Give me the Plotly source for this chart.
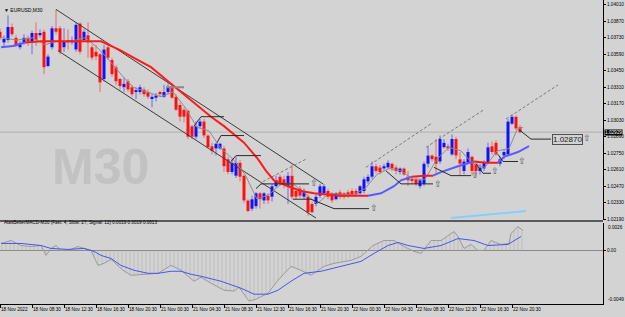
import plotly.graph_objects as go

# ---------------- data (EURUSD M30) ----------------
bars = list(range(131))
open_ = [1.0378,1.0369,1.0371,1.0382,1.0373,1.0365,1.0369,1.0373,1.0369,1.0377,
         1.0375,1.0378,1.0349,1.0365,1.0381,1.0381,1.0365,1.0371,1.0369,1.0363,
         1.0385,1.0371,1.0375,1.0365,1.0361,1.0359,1.0338,1.0365,1.0354,1.0348,
         1.0338,1.0331,1.0336,1.0331,1.0327,1.0327,1.0329,1.0327,1.0321,1.0322,
         1.0327,1.0323,1.0327,1.0331,1.0323,1.0316,1.0312,1.0311,1.0298,1.0289,
         1.0298,1.0302,1.0290,1.0281,1.0279,1.0279,1.0279,1.0270,1.0259,1.0256,
         1.0267,1.0256,1.0235,1.0228,1.0230,1.0241,1.0235,1.0239,1.0238,1.0247,
         1.0255,1.0253,1.0247,1.0256,1.0243,1.0245,1.0238,1.0238,1.0232,1.0232,
         1.0239,1.0241,1.0243,1.0241,1.0236,1.0242,1.0241,1.0242,1.0243,1.0243,
         1.0241,1.0243,1.0251,1.0255,1.0264,1.0263,1.0262,1.0263,1.0266,1.0263,
         1.0259,1.0262,1.0255,1.0253,1.0253,1.0247,1.0249,1.0266,1.0273,1.0272,
         1.0268,1.0280,1.0281,1.0274,1.0287,1.0270,1.0260,1.0267,1.0272,1.0266,
         1.0260,1.0262,1.0267,1.0281,1.0284,1.0266,1.0273,1.0274,1.0300,1.0306,
         1.0297]
close_ = [1.0373,1.0372,1.0382,1.0376,1.0366,1.0368,1.0373,1.0370,1.0377,1.0371,
          1.0377,1.0348,1.0357,1.0381,1.0378,1.0361,1.0370,1.0369,1.0371,1.0384,
          1.0361,1.0378,1.0369,1.0356,1.0357,1.0335,1.0363,1.0356,1.0342,1.0336,
          1.0332,1.0334,1.0329,1.0325,1.0328,1.0331,1.0325,1.0323,1.0323,1.0324,
          1.0325,1.0327,1.0331,1.0322,1.0312,1.0306,1.0306,1.0289,1.0289,1.0298,
          1.0302,1.0290,1.0280,1.0277,1.0283,1.0283,1.0264,1.0259,1.0267,1.0267,
          1.0255,1.0235,1.0226,1.0236,1.0241,1.0236,1.0241,1.0235,1.0247,1.0252,
          1.0249,1.0248,1.0256,1.0238,1.0238,1.0239,1.0243,1.0225,1.0225,1.0238,
          1.0247,1.0247,1.0238,1.0235,1.0241,1.0238,1.0238,1.0239,1.0240,1.0240,
          1.0247,1.0253,1.0255,1.0264,1.0260,1.0259,1.0264,1.0267,1.0262,1.0260,
          1.0262,1.0257,1.0252,1.0252,1.0249,1.0252,1.0266,1.0273,1.0270,1.0266,
          1.0287,1.0284,1.0279,1.0287,1.0273,1.0266,1.0268,1.0276,1.0260,1.0260,
          1.0263,1.0267,1.0280,1.0276,1.0274,1.0270,1.0276,1.0302,1.0306,1.0296,
          1.02929]
high_ = [1.0381,1.0375,1.0392,1.0385,1.0375,1.0370,1.0376,1.0375,1.0379,1.0386,
         1.0380,1.0380,1.0359,1.0383,1.0397,1.0383,1.0381,1.0380,1.0374,1.0386,
         1.0386,1.0380,1.0386,1.0367,1.0367,1.0360,1.0367,1.0368,1.0356,1.0350,
         1.0339,1.0339,1.0338,1.0333,1.0331,1.0333,1.0331,1.0329,1.0325,1.0326,
         1.0328,1.0333,1.0334,1.0334,1.0325,1.0318,1.0314,1.0312,1.0299,1.0302,
         1.0304,1.0304,1.0291,1.0284,1.0284,1.0284,1.0281,1.0272,1.0270,1.0272,
         1.0269,1.0257,1.0236,1.0239,1.0242,1.0242,1.0242,1.0241,1.0249,1.0256,
         1.0257,1.0256,1.0259,1.0265,1.0245,1.0247,1.0245,1.0240,1.0234,1.0241,
         1.0249,1.0249,1.0245,1.0242,1.0242,1.0244,1.0242,1.0244,1.0245,1.0245,
         1.0248,1.0255,1.0257,1.0268,1.0266,1.0265,1.0266,1.0269,1.0267,1.0265,
         1.0263,1.0263,1.0260,1.0255,1.0255,1.0253,1.0268,1.0281,1.0274,1.0287,
         1.0290,1.0287,1.0283,1.0291,1.0289,1.0276,1.0270,1.0279,1.0273,1.0267,
         1.0266,1.0269,1.0284,1.0285,1.0286,1.0272,1.0278,1.0304,1.0308,1.0307,
         1.0299]
low_ = [1.0371,1.0366,1.0369,1.0374,1.0365,1.0363,1.0367,1.0366,1.0359,1.0366,
        1.0373,1.0342,1.0348,1.0363,1.0376,1.0359,1.0361,1.0363,1.0367,1.0361,
        1.0359,1.0370,1.0356,1.0354,1.0354,1.0327,1.0336,1.0354,1.0340,1.0333,
        1.0329,1.0327,1.0327,1.0323,1.0321,1.0325,1.0323,1.0321,1.0314,1.0319,
        1.0323,1.0322,1.0325,1.0321,1.0311,1.0302,1.0301,1.0287,1.0287,1.0287,
        1.0296,1.0288,1.0279,1.0274,1.0273,1.0278,1.0259,1.0257,1.0257,1.0254,
        1.0251,1.0233,1.0225,1.0226,1.0228,1.0228,1.0232,1.0232,1.0234,1.0246,
        1.0247,1.0245,1.0232,1.0236,1.0236,1.0237,1.0236,1.0222,1.0224,1.0230,
        1.0237,1.0239,1.0236,1.0233,1.0235,1.0236,1.0236,1.0237,1.0238,1.0238,
        1.0239,1.0241,1.0249,1.0253,1.0258,1.0257,1.0260,1.0262,1.0260,1.0257,
        1.0257,1.0256,1.0247,1.0249,1.0247,1.0245,1.0247,1.0263,1.0268,1.0257,
        1.0266,1.0279,1.0277,1.0273,1.0270,1.0256,1.0257,1.0266,1.0256,1.0255,
        1.0257,1.0260,1.0266,1.0274,1.0273,1.0264,1.0270,1.0273,1.0299,1.0295,
        1.0292]

time_tick_bars = [0, 8, 16, 24, 32, 40, 48, 56, 64, 72, 80, 88, 96, 104, 112, 120, 128]
time_tick_labels = ["18 Nov 2022", "18 Nov 08:30", "18 Nov 12:30", "18 Nov 16:30",
                    "18 Nov 20:30", "21 Nov 00:30", "21 Nov 04:30", "21 Nov 08:30",
                    "21 Nov 12:30", "21 Nov 16:30", "21 Nov 20:30", "22 Nov 00:30",
                    "22 Nov 04:30", "22 Nov 08:30", "22 Nov 12:30", "22 Nov 16:30",
                    "22 Nov 20:30"]
price_ticks = [1.0401, 1.0387, 1.0373, 1.0359, 1.0345, 1.0331, 1.0317,
               1.0303, 1.0289, 1.0275, 1.0261, 1.0247, 1.0233, 1.0219]
price_tick_labels = ["1.04010", "1.03870", "1.03730", "1.03590", "1.03450", "1.03310", "1.03170",
                     "1.03030", "1.02890", "1.02750", "1.02610", "1.02470", "1.02330", "1.02190"]

# trend MA (colored by direction: 1 = rising/blue, 0 = falling/red, per segment)
ma_bars = [0.25, 3.25, 6.25, 10.25, 15.25, 20.25, 25.25, 27.75, 30.25, 33.5, 37.75, 42, 45.25,
           49.5, 52.75, 56, 59, 61, 62.75, 64.5, 66.5, 68.5, 72, 75.25, 78.5, 82, 85.25, 92,
           95.25, 98.5, 100.25, 103, 106, 108.25, 110.25, 114.5, 118.5, 121.5, 124.5, 126,
           129.5, 132.25]
ma_vals = [1.0365, 1.0366, 1.0369, 1.0370, 1.0370, 1.0370, 1.0370, 1.0366, 1.0362, 1.0356,
           1.0348, 1.0336, 1.0327, 1.0315, 1.0306, 1.0298, 1.0290, 1.0284, 1.0277, 1.0270,
           1.0260, 1.0252, 1.0247, 1.0243, 1.0241, 1.0240, 1.0239, 1.0239, 1.0241, 1.0247,
           1.0252, 1.0255, 1.0256, 1.0256, 1.0259, 1.0264, 1.0268, 1.0267, 1.0267, 1.0272,
           1.0276, 1.0281]
ma_up = [1, 1, 0, 0, 0, 0, 0, 0, 0, 0, 0, 0, 0, 0, 0, 0, 0, 0, 0, 0, 0, 0, 0, 0, 0, 0, 0,
         1, 1, 1, 1, 0, 0, 1, 1, 1, 0, 0, 1, 1, 1, 1]

# fast grey MA
fast_bars = [0.25, 4.25, 8.25, 11.25, 14.25, 17.75, 21.25, 24.25, 27.25, 30.25, 33.25, 36.5,
             40.25, 43.25, 46.25, 49.25, 52.25, 55.25, 58.25, 61.25, 64.25, 67.25, 70.25, 73.25,
             76.25, 79.25, 82.25, 85.25, 88.25, 91.25, 94.25, 97.25, 100.25, 103.25, 106.25,
             109.25, 112.25, 115.25, 118.25, 121.25, 124.25, 127.25, 129.25, 130.75]
fast_vals = [1.0373, 1.0371, 1.0373, 1.0367, 1.0370, 1.0370, 1.0373, 1.0365, 1.0354, 1.0342,
             1.0331, 1.0327, 1.0323, 1.0327, 1.0314, 1.0297, 1.0294, 1.0279, 1.0270, 1.0257,
             1.0236, 1.0240, 1.0249, 1.0249, 1.0241, 1.0232, 1.0241, 1.0240, 1.0240, 1.0245,
             1.0257, 1.0262, 1.0260, 1.0253, 1.0253, 1.0270, 1.0280, 1.0277, 1.0266, 1.0263,
             1.0277, 1.0279, 1.0295, 1.0297]

# trailing-stop step lines
step_bars = [[48.5, 50.25, 56], [54.25, 55.25, 61], [57.75, 59, 65.25], [64, 65.25, 77.25],
             [73.25, 77.75, 83.5, 92.25], [96.5, 100.25, 108.25], [108.5, 112.75, 117.75],
             [119, 120.75, 122.75], [124.5, 125.75, 129.5], [129.75, 132.75, 137.75]]
step_prices = [[1.0298, 1.0306, 1.0306], [1.0284, 1.0290, 1.0290], [1.0268, 1.0273, 1.0273],
               [1.0245, 1.0249, 1.0249], [1.0236, 1.0236, 1.0228, 1.0228],
               [1.0260, 1.0249, 1.0249], [1.0263, 1.0256, 1.0256], [1.0266, 1.0258, 1.0258],
               [1.0274, 1.0268, 1.0268], [1.0295, 1.0287, 1.0287]]
arrow_bars = [78.5, 93.5, 109.5, 118.75, 123.75, 130.5, 146.75]
arrow_prices = [1.0249, 1.0228, 1.0248, 1.0256, 1.0259, 1.0268, 1.0287]
grey_level_bars = [41.5, 46]
grey_level_prices = [1.0331, 1.0331]
stop_label_bar = 141.75
stop_label_price = 1.02870

# channel drawings
down_channel_bars = [[14, 80.75], [14.5, 79]]
down_channel_prices = [[1.0397, 1.0249], [1.0362, 1.0220]]
dash_bars = [[65.75, 76.5], [91.5, 107.75], [106.5, 121], [126.5, 139.5]]
dash_prices = [[1.0251, 1.0270], [1.0263, 1.0300], [1.0280, 1.0312], [1.0304, 1.0333]]
lightblue_bars = [112.75, 131.5]
lightblue_prices = [1.0220, 1.0226]

# MACD (Fast 4, Slow 27, Signal 12)
macd_bars = [0.25, 2.75, 5.25, 7.75, 10.25, 11.5, 12.75, 14, 15.25, 17.75, 19.5, 21, 22.75,
             24.5, 26, 27.75, 29.5, 30.75, 32.75, 36, 39.5, 42.75, 45.25, 48.5, 50.25, 52.75,
             56, 58.5, 59.75, 62.25, 64, 67, 69.5, 72.75, 75.25, 77.75, 81, 83.5, 87.75, 90.25,
             93.25, 96, 98.5, 101, 103.5, 105.25, 107.75, 110.25, 112, 113.5, 114.5, 116,
             117.75, 119.5, 121, 122.75, 125.25, 127.25, 127.75, 129.5, 130.75]
macd_vals = [0.00068, 0.00095, 0.00049, 0.00040, 0.00049, -0.00042, 0.00022, 0.00049, 0.00004,
             0.00013, 0.00040, 0.00022, 0.00004, -0.00134, -0.00115, -0.00079, -0.00134,
             -0.00179, -0.00225, -0.00216, -0.00207, -0.00134, -0.00179, -0.00280, -0.00243,
             -0.00298, -0.00362, -0.00371, -0.00335, -0.00463, -0.00445, -0.00390, -0.00271,
             -0.00143, -0.00179, -0.00225, -0.00143, -0.00115, -0.00088, -0.00051, 0.00049,
             0.00095, 0.00095, 0.00040, -0.00005, -0.00024, 0.00095, 0.00095, 0.00141, 0.00178,
             0.00132, 0.00022, 0.00059, 0.00004, 0.00004, 0.00095, 0.00059, 0.00068, 0.00159,
             0.00223, 0.00187]
signal_bars = [0.25, 5.25, 10.25, 12.75, 17, 21, 23.5, 25.25, 27.75, 30.25, 33.5, 37, 39.5,
               42.75, 45.25, 47.75, 50.25, 55.25, 60.25, 63.5, 67, 69.5, 72.75, 76, 80.25,
               85.25, 90.25, 93.5, 97, 99.5, 102, 106, 110.25, 114.5, 118.5, 122, 127, 130.25]
signal_vals = [0.00068, 0.00068, 0.00049, 0.00022, 0.00013, 0.00022, -0.00005, -0.00042,
               -0.00070, -0.00134, -0.00179, -0.00207, -0.00207, -0.00188, -0.00188, -0.00216,
               -0.00234, -0.00280, -0.00344, -0.00399, -0.00399, -0.00362, -0.00280, -0.00207,
               -0.00188, -0.00143, -0.00097, -0.00024, 0.00049, 0.00077, 0.00049, 0.00022,
               0.00049, 0.00113, 0.00095, 0.00049, 0.00059, 0.00132]
macd_max, macd_min = 0.0026, -0.0049

# ---------------- styling ----------------
BG = "#d3d3d3"
FONT = "Liberation Sans"
W, H = 625, 317
X_DOM = 603 / W
MAIN_DOM = [1 - 221 / H, 1.0]
MACD_DOM = [1 - 306 / H, 1 - 224 / H]

fig = go.Figure()

# candles: wicks (upper & lower separate so bodies stay solid)
def wick_xy(up):
    xs, ys = [], []
    for i, o, h, l, c in zip(bars, open_, high_, low_, close_):
        if (c >= o) != up:
            continue
        top, bot = max(o, c), min(o, c)
        xs += [i, i, None, i, i, None]
        ys += [h, top, None, bot, l, None]
    return xs, ys

for up, col in ((True, "#6a6ae9"), (False, "#e96a6a")):
    wx, wy = wick_xy(up)
    fig.add_trace(go.Scatter(x=wx, y=wy, mode="lines", line=dict(color=col, width=1),
                             hoverinfo="skip", xaxis="x", yaxis="y"))

body_base = [min(o, c) for o, c in zip(open_, close_)]
body_h = [abs(c - o) for o, c in zip(open_, close_)]
body_col = ["#1010ff" if c >= o else "#ff1010" for o, c in zip(open_, close_)]
fig.add_trace(go.Bar(x=bars, y=body_h, base=body_base, width=0.75,
                     marker=dict(color=body_col, line=dict(width=0)),
                     hoverinfo="skip", xaxis="x", yaxis="y"))

# channel lines
for bx, py in zip(down_channel_bars, down_channel_prices):
    fig.add_trace(go.Scatter(x=bx, y=py, mode="lines", line=dict(color="#3a3a3a", width=1),
                             hoverinfo="skip"))
for bx, py in zip(dash_bars, dash_prices):
    fig.add_trace(go.Scatter(x=bx, y=py, mode="lines",
                             line=dict(color="#7a7a7a", width=1, dash="3px,2px"),
                             hoverinfo="skip"))
fig.add_trace(go.Scatter(x=lightblue_bars, y=lightblue_prices, mode="lines",
                         line=dict(color="#87cefa", width=2), hoverinfo="skip"))

# fast grey MA
fig.add_trace(go.Scatter(x=fast_bars, y=fast_vals, mode="lines",
                         line=dict(color="#8c8c8c", width=1), hoverinfo="skip"))

# colored trend MA
seg_start = 0
for k in range(1, len(ma_bars)):
    last = k == len(ma_bars) - 1
    if last or ma_up[k] != ma_up[seg_start]:
        col = "#5a5aff" if ma_up[seg_start] else "#ff1a1a"
        fig.add_trace(go.Scatter(x=ma_bars[seg_start:k + 1], y=ma_vals[seg_start:k + 1],
                                 mode="lines", line=dict(color=col, width=2),
                                 hoverinfo="skip"))
        seg_start = k

# trailing-stop steps
for bx, py in zip(step_bars, step_prices):
    fig.add_trace(go.Scatter(x=bx, y=py, mode="lines", line=dict(color="#2a2a2a", width=1),
                             hoverinfo="skip"))
fig.add_trace(go.Scatter(x=grey_level_bars, y=grey_level_prices, mode="lines",
                         line=dict(color="#8a8a8a", width=2), hoverinfo="skip"))
fig.add_trace(go.Scatter(x=arrow_bars, y=arrow_prices, mode="text", text=["⇧"] * len(arrow_bars),
                         textfont=dict(family="DejaVu Sans", size=9, color="#555555"),
                         hoverinfo="skip"))

# MACD panel
fig.add_trace(go.Scatter(x=macd_bars, y=macd_vals, mode="lines", xaxis="x2", yaxis="y2",
                         line=dict(color="#9a9a9a", width=1), fill="tozeroy",
                         fillcolor="rgba(0,0,0,0)",
                         fillpattern=dict(shape="|", size=4, solidity=0.25,
                                          fgcolor="#a8a8a8", bgcolor="rgba(0,0,0,0)"),
                         hoverinfo="skip"))
fig.add_trace(go.Scatter(x=signal_bars, y=signal_vals, mode="lines", xaxis="x2", yaxis="y2",
                         line=dict(color="#5050f0", width=1), hoverinfo="skip"))

tick_font = dict(family=FONT, size=4.7, color="#000000")
fig.update_layout(
    width=W, height=H, margin=dict(l=0, r=0, t=0, b=0),
    paper_bgcolor=BG, plot_bgcolor=BG, showlegend=False, hovermode=False,
    barmode="overlay",
    xaxis=dict(domain=[0, X_DOM], range=[0, 150.75], anchor="y", showticklabels=False,
               showgrid=False, zeroline=False, showline=False, ticks=""),
    xaxis2=dict(domain=[0, X_DOM], range=[0, 150.75], anchor="y2", matches="x",
                tickvals=time_tick_bars, ticktext=time_tick_labels, ticks="outside",
                ticklen=3, tickcolor="#000000", ticklabelposition="outside right",
                tickangle=0, tickfont=tick_font, showgrid=False, zeroline=False,
                showline=True, linecolor="#000000", linewidth=1),
    yaxis=dict(domain=MAIN_DOM, range=[1.02187, 1.0405], side="right", anchor="x",
               tickvals=price_ticks, ticktext=price_tick_labels, ticks="outside",
               ticklen=2, tickcolor="#000000", tickfont=tick_font, showgrid=False,
               zeroline=False, showline=True, linecolor="#000000", linewidth=1),
    yaxis2=dict(domain=MACD_DOM, range=[macd_min, macd_max], side="right", anchor="x2",
                tickvals=[0], ticktext=["0.00"], ticks="outside", ticklen=2,
                tickcolor="#000000", tickfont=tick_font, showgrid=False, zeroline=True,
                zerolinecolor="#8a8a8a", zerolinewidth=1, showline=True,
                linecolor="#000000", linewidth=1),
)

# current price line + separator
fig.add_shape(type="line", xref="paper", yref="y", x0=0, x1=X_DOM, y0=close_[-1], y1=close_[-1],
              line=dict(color="#b0b0b0", width=1), layer="below")
fig.add_shape(type="line", xref="paper", yref="paper", x0=0, x1=X_DOM,
              y0=1 - 222.5 / H, y1=1 - 222.5 / H, line=dict(color="#5a5a5a", width=2))

ann = [
    dict(text="M30", x=100 / W, y=1 - 168 / H, xref="paper", yref="paper",
         xanchor="center", yanchor="middle",
         font=dict(family=FONT, size=50, color="#c2c2c2", weight="bold"), showarrow=False),
    dict(text="▼ EURUSD,M30", x=2 / W, y=1 - 5 / H, xref="paper", yref="paper",
         xanchor="left", font=dict(family=FONT, size=5, color="#000000"), showarrow=False),
    dict(text="AtasBetterMACD-M30 (Fast: 4, Slow: 27, Signal: 12) 0.0019 0.0019 0.0013",
         x=2 / W, y=1 - 228.5 / H, xref="paper", yref="paper", xanchor="left",
         font=dict(family=FONT, size=4.6, color="#000000"), showarrow=False),
    dict(text=f"{close_[-1]:.5f}", x=X_DOM + 1 / W, y=close_[-1], xref="paper", yref="y",
         xanchor="left", bgcolor="#000000", borderpad=0,
         font=dict(family=FONT, size=4.7, color="#ffffff"), showarrow=False),
    dict(text=f"{stop_label_price:.5f}", x=stop_label_bar, y=stop_label_price, xref="x",
         yref="y", bordercolor="#505050", borderwidth=1, borderpad=0,
         font=dict(family=FONT, size=8, color="#202020"), showarrow=False),
    dict(text=f"{macd_max:.4f}", x=X_DOM + 3 / W, y=macd_max, xref="paper", yref="y2",
         xanchor="left", yanchor="top", font=tick_font, showarrow=False),
    dict(text=f"{macd_min:.4f}", x=X_DOM + 3 / W, y=macd_min, xref="paper", yref="y2",
         xanchor="left", yanchor="bottom", font=tick_font, showarrow=False),
]
fig.update_layout(annotations=ann)

fig.write_html("out.html")
